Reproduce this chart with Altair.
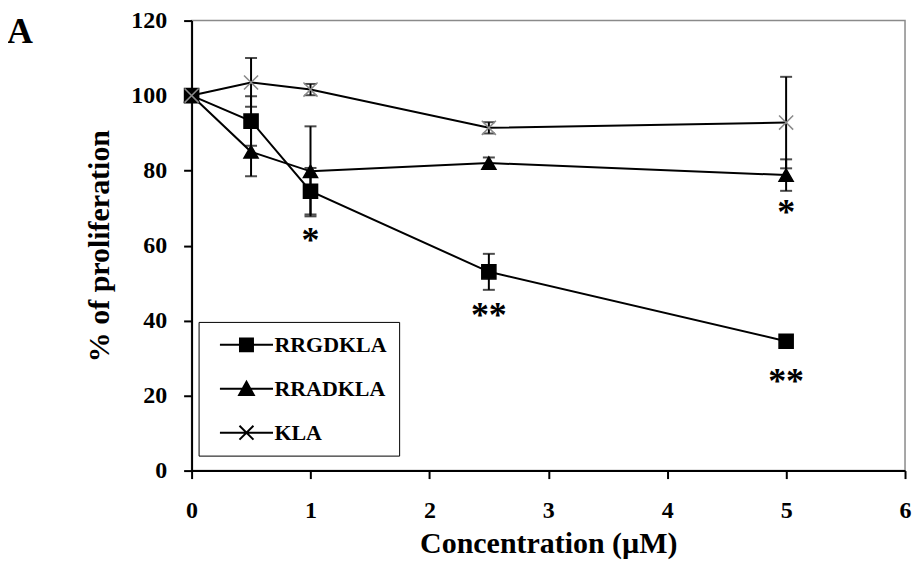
import altair as alt
import pandas as pd

# ---- data ----
conc = [0, 0.5, 1, 2.5, 5]
series_names = ["RRGDKLA", "RRADKLA", "KLA"]
rrgd_mean = [100, 93.2, 74.5, 53.0, 34.5]
rrgd_err = [0, 6.6, 6.2, 4.8, 1.0]
rrad_mean = [100, 85.0, 79.8, 82.0, 78.8]
rrad_err = [0, 6.5, 12.0, 1.5, 4.2]
kla_mean = [100, 103.5, 101.6, 91.4, 92.8]
kla_err = [0, 6.5, 1.5, 1.5, 12.2]

star_x = [1, 2.5, 5, 5]
star_y = [62.7, 42.9, 25.3, 70.2]
star_text = ["*", "**", "**", "*"]

panel_label = ["A"]
x_ticks = [0, 1, 2, 3, 4, 5, 6]
y_ticks = [0, 20, 40, 60, 80, 100, 120]

FONT = "Liberation Serif"

rows = []
for name, means, errs in zip(series_names,
                             [rrgd_mean, rrad_mean, kla_mean],
                             [rrgd_err, rrad_err, kla_err]):
    for c, m, e in zip(conc, means, errs):
        rows.append({"series": name, "conc": c, "mean": m, "err": e,
                     "low": m - e, "high": m + e})
df = pd.DataFrame(rows)
df_err = df[df["err"] > 0].copy()
caps = pd.concat([
    df_err[["series", "conc", "low"]].rename(columns={"low": "v"}),
    df_err[["series", "conc", "high"]].rename(columns={"high": "v"}),
])
stars = pd.DataFrame({"conc": star_x, "v": star_y, "t": star_text})

xscale = alt.Scale(domain=[0, 6], nice=False)
yscale = alt.Scale(domain=[0, 120], nice=False)

xenc = alt.X("conc:Q", scale=xscale,
             axis=alt.Axis(values=x_ticks, title="Concentration (µM)", format="d",
                           labelFlush=False, tickSize=8, labelBaseline="alphabetic",
                           labelPadding=39, titlePadding=6))
yenc = alt.Y("mean:Q", scale=yscale,
             axis=alt.Axis(values=y_ticks, title="% of proliferation",
                           labelFlush=False, tickSize=8, labelPadding=17,
                           titlePadding=16))

base = alt.Chart(df)

lines = base.mark_line(color="black", strokeWidth=2).encode(
    x=xenc, y=yenc, detail="series:N")

rules = alt.Chart(df_err).mark_rule(color="black", strokeWidth=2).encode(
    x=alt.X("conc:Q", scale=xscale), y=alt.Y("low:Q", scale=yscale), y2="high:Q")

ticks = alt.Chart(caps).mark_tick(color="black", orient="horizontal", size=12,
                                  thickness=2).encode(
    x=alt.X("conc:Q", scale=xscale), y=alt.Y("v:Q", scale=yscale))

x_path = "M-1,-1L1,1M-1,1L1,-1"
points = base.mark_point(opacity=1, strokeWidth=1.5).encode(
    x=alt.X("conc:Q", scale=xscale),
    y=alt.Y("mean:Q", scale=yscale),
    shape=alt.Shape("series:N", scale=alt.Scale(domain=series_names,
                    range=["square", "triangle-up", x_path]), legend=None),
    fill=alt.Fill("series:N", scale=alt.Scale(domain=series_names,
                  range=["black", "black", "transparent"]), legend=None),
    stroke=alt.Stroke("series:N", scale=alt.Scale(domain=series_names,
                      range=["black", "black", "#8a8a8a"]), legend=None),
    size=alt.Size("series:N", scale=alt.Scale(domain=series_names,
                  range=[200, 200, 250]), legend=None),
)

# legend-only layer: symbols are a line with the marker on it
# (symbol size 196 -> unit = 7px; line spans +-3.8 units = 53px)
leg_paths = [
    "M-3.8,0H3.8M-0.93,-0.93H0.93V0.93H-0.93Z",
    "M-3.8,0H3.8M0,-1L1.05,0.9L-1.05,0.9Z",
    "M-3.8,0H3.8M-1,-1L1,1M-1,1L1,-1",
]
legend = alt.Legend(
    title=None, orient="none", legendX=7, legendY=302,
    labelFont=FONT, labelFontSize=22, labelFontWeight="bold", labelColor="black",
    symbolSize=196, symbolOffset=25, labelOffset=17, rowPadding=22,
    padding=12, strokeColor="black", fillColor="white", symbolOpacity=1,
    symbolStrokeWidth=2,
)
leg_layer = base.transform_filter("false").mark_point(size=196, strokeWidth=2,
                                                       opacity=1).encode(
    x=alt.X("conc:Q", scale=xscale),
    y=alt.Y("mean:Q", scale=yscale),
    shape=alt.Shape("series:N", scale=alt.Scale(domain=series_names, range=leg_paths),
                    legend=legend),
    fill=alt.Fill("series:N", scale=alt.Scale(domain=series_names,
                  range=["black", "black", "transparent"]), legend=legend),
    stroke=alt.Stroke("series:N", scale=alt.Scale(domain=series_names,
                      range=["black", "black", "black"]), legend=legend),
)

star_layer = alt.Chart(stars).mark_text(font=FONT, fontSize=36, fontWeight="bold",
                                        color="black", baseline="middle", dy=6).encode(
    x=alt.X("conc:Q", scale=xscale), y=alt.Y("v:Q", scale=yscale), text="t:N")

label_layer = alt.Chart(pd.DataFrame({"t": panel_label})).mark_text(
    font=FONT, fontSize=36, fontWeight="bold", color="black", align="left",
    baseline="alphabetic").encode(text="t:N", x=alt.value(-185), y=alt.value(22))

chart = alt.layer(lines, rules, ticks, points, star_layer, leg_layer,
                  label_layer).resolve_scale(
    shape="independent", fill="independent", stroke="independent"
).properties(
    width=715, height=451,
    autosize=alt.AutoSizeParams(type="none"),
    padding={"left": 184, "top": 12, "right": 9, "bottom": 92},
).configure_view(stroke="#8a8a8a", strokeWidth=1.5).configure_axis(
    grid=False, domainColor="black", domainWidth=2, tickColor="black", tickWidth=2,
    labelFont=FONT, labelFontSize=24, labelFontWeight="bold",
    labelColor="black", titleFont=FONT, titleFontSize=30, titleFontWeight="bold",
    titleColor="black",
)

chart.save("out.html", embed_options={"renderer": "svg", "actions": False})
